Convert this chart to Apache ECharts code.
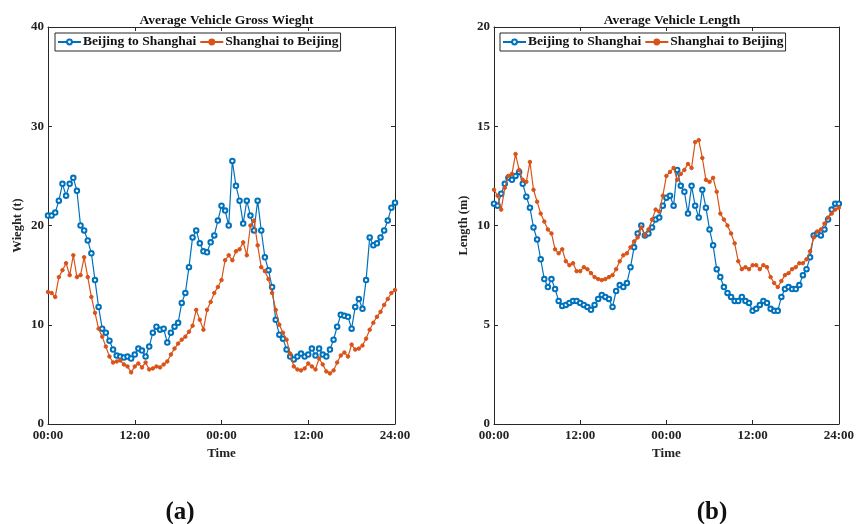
<!DOCTYPE html>
<html>
<head>
<meta charset="utf-8">
<script src="https://cdn.jsdelivr.net/npm/echarts@6/dist/echarts.min.js"></script>
<style>
html,body{margin:0;padding:0;background:#fff;}
#c{width:857px;height:524px;}
</style>
</head>
<body>
<div id="c"></div>
<script>
// x tick labels (hours 0..48 every 12)
const xTickLabels = ['00:00', '12:00', '00:00', '12:00', '24:00'];
const seriesNames = ['Beijing to Shanghai', 'Shanghai to Beijing'];
// Average gross weight (t), samples every 30 min over 48 h
const weightBJtoSH = [21.0,21.0,21.3,22.5,24.2,23.0,24.2,24.8,23.5,20.0,19.5,18.5,17.2,14.5,11.8,9.6,9.2,8.4,7.5,6.9,6.8,6.7,6.8,6.6,7.0,7.6,7.4,6.8,7.8,9.2,9.8,9.5,9.6,8.2,9.2,9.8,10.2,12.2,13.2,15.8,18.8,19.5,18.2,17.4,17.3,18.3,19.0,20.5,22.0,21.5,20.0,26.5,24.0,22.5,20.2,22.5,21.0,19.5,22.5,19.5,16.8,15.5,13.8,10.5,9.0,8.6,7.5,6.8,6.5,6.8,7.1,6.8,7.0,7.6,6.9,7.6,7.0,6.8,7.5,8.5,9.8,11.0,10.9,10.8,9.6,11.8,12.6,11.6,14.5,18.8,18.0,18.2,18.8,19.5,20.5,21.8,22.3];
const weightSHtoBJ = [13.3,13.2,12.8,14.8,15.5,16.2,15.0,17.0,14.8,15.0,16.8,14.8,12.8,11.2,9.6,8.8,7.8,6.8,6.2,6.3,6.4,6.0,5.8,5.2,5.8,6.1,5.7,6.2,5.5,5.6,5.8,5.7,6.0,6.3,7.0,7.6,8.1,8.5,8.8,9.3,9.9,11.5,10.5,9.5,11.5,12.3,13.2,13.8,14.5,16.5,17.0,16.5,17.4,17.6,18.3,17.0,20.0,20.5,18.0,15.8,15.4,14.6,13.2,11.5,10.0,9.2,8.5,7.1,5.8,5.5,5.4,5.6,6.1,5.8,5.5,6.6,6.0,5.3,5.1,5.4,6.2,6.9,7.2,6.8,8.0,7.5,7.6,7.9,8.6,9.5,10.2,10.8,11.3,12.0,12.6,13.2,13.5];
// Average vehicle length (m)
const lengthBJtoSH = [11.1,11.0,11.6,12.1,12.4,12.3,12.5,12.7,12.1,11.45,10.9,9.9,9.3,8.3,7.3,6.9,7.3,6.8,6.2,5.95,6.0,6.1,6.2,6.2,6.1,6.0,5.9,5.75,6.0,6.3,6.5,6.4,6.3,5.9,6.7,7.0,6.9,7.1,7.9,8.9,9.6,10.0,9.5,9.6,9.9,10.3,10.4,11.0,11.4,11.5,11.0,12.8,12.0,11.7,10.6,12.0,11.0,10.4,11.8,10.9,9.8,9.0,7.8,7.4,6.9,6.6,6.4,6.2,6.2,6.4,6.2,6.1,5.7,5.8,6.0,6.2,6.1,5.8,5.7,5.7,6.4,6.8,6.9,6.8,6.8,7.0,7.5,7.8,8.4,9.5,9.6,9.5,9.8,10.3,10.8,11.1,11.1];
const lengthSHtoBJ = [11.8,11.5,10.8,11.9,12.5,12.6,13.6,12.8,12.3,12.2,13.2,11.8,11.2,10.6,10.2,9.8,9.6,8.8,8.6,8.8,8.2,8.0,8.1,7.7,7.7,7.9,7.8,7.6,7.4,7.3,7.25,7.3,7.4,7.5,7.8,8.2,8.5,8.6,8.9,9.2,9.4,9.9,9.5,9.8,10.3,10.8,10.7,11.5,12.5,12.7,12.9,12.3,12.6,12.8,13.1,12.9,14.2,14.3,13.4,12.3,12.2,12.4,11.7,10.6,10.3,10.0,9.6,9.1,8.2,7.8,7.9,7.8,8.0,8.0,7.8,8.0,7.9,7.4,7.1,6.9,7.2,7.5,7.6,7.8,7.9,8.1,8.1,8.3,8.7,9.4,9.7,9.8,10.1,10.4,10.6,10.8,10.9];

const BLUE = '#0072BD', ORANGE = '#D95319';
const FONT = '"Liberation Serif", "Times New Roman", serif';
const hours = weightBJtoSH.map((_, i) => i * 0.5);
const pairs = arr => arr.map((v, i) => [hours[i], v]);

const grids = [
  {left: 48, right: 462, top: 27, bottom: 100},
  {left: 494, right: 16.5, top: 27, bottom: 100}
];
const AX = '#262626';

function xAxes(gi) {
  return [
    {gridIndex: gi, type: 'value', min: 0, max: 48, interval: 12, position: 'bottom',
     name: 'Time', nameLocation: 'middle', nameGap: 21,
     nameTextStyle: {fontFamily: FONT, fontWeight: 'bold', fontSize: 13, color: '#222'},
     axisLine: {onZero: false, lineStyle: {color: AX, width: 1}},
     axisTick: {inside: true, length: 4, lineStyle: {color: AX}},
     axisLabel: {fontFamily: FONT, fontWeight: 'bold', fontSize: 13, color: '#222', margin: 5,
       formatter: v => xTickLabels[Math.round(v / 12)]},
     splitLine: {show: false}},
    {gridIndex: gi, type: 'value', min: 0, max: 48, interval: 12, position: 'top',
     axisLine: {show: true, onZero: false, lineStyle: {color: AX, width: 1}},
     axisTick: {inside: true, length: 4, lineStyle: {color: AX}},
     axisLabel: {show: false}, splitLine: {show: false}}
  ];
}
function yAxes(gi, max, interval, name) {
  return [
    {gridIndex: gi, type: 'value', min: 0, max: max, interval: interval, position: 'left',
     name: name, nameLocation: 'middle', nameGap: 24,
     nameTextStyle: {fontFamily: FONT, fontWeight: 'bold', fontSize: 12.5, color: '#222'},
     axisLine: {show: true, onZero: false, lineStyle: {color: AX, width: 1}},
     axisTick: {show: true, inside: true, length: 4, lineStyle: {color: AX}},
     axisLabel: {fontFamily: FONT, fontWeight: 'bold', fontSize: 13, color: '#222', margin: 4},
     splitLine: {show: false}},
    {gridIndex: gi, type: 'value', min: 0, max: max, interval: interval, position: 'right',
     axisLine: {show: true, onZero: false, lineStyle: {color: AX, width: 1}},
     axisTick: {show: true, inside: true, length: 4, lineStyle: {color: AX}},
     axisLabel: {show: false}, splitLine: {show: false}}
  ];
}

function mkSeries(name, data, xi, yi, color, isBlue) {
  return {
    name: name, type: 'line', xAxisIndex: xi, yAxisIndex: yi, data: pairs(data),
    showSymbol: true, symbol: isBlue ? 'emptyCircle' : 'circle', symbolSize: isBlue ? 4.5 : 3.5,
    lineStyle: {color: color, width: 1.2},
    itemStyle: {color: color, borderColor: color, borderWidth: 1},
    emphasis: {disabled: true}, animation: false, z: isBlue ? 2 : 3
  };
}

const legendBase = {
  orient: 'horizontal', top: 33, itemWidth: 23, itemHeight: 6, itemGap: 3,
  borderColor: AX, borderWidth: 1, padding: [2, 2, 2, 2],
  backgroundColor: '#fff',
  textStyle: {fontFamily: FONT, fontWeight: 'bold', fontSize: 13.5, color: '#111', padding: [0, 0, 0, -3]},
  data: seriesNames
};

const labelRich = {
  p: {fontFamily: FONT, fontSize: 25, color: '#111'},
  b: {fontFamily: FONT, fontSize: 25, fontWeight: 'bold', color: '#111'}
};

const chart = echarts.init(document.getElementById('c'), null, {renderer: 'canvas'});
chart.setOption({
  backgroundColor: '#fff',
  animation: false,
  title: [
    {text: 'Average Vehicle Gross Wieght', left: 221.5, top: 9, textAlign: 'center',
     textStyle: {fontFamily: FONT, fontWeight: 'bold', fontSize: 13.5, color: '#111'}},
    {text: 'Average Vehicle Length', left: 667, top: 9, textAlign: 'center',
     textStyle: {fontFamily: FONT, fontWeight: 'bold', fontSize: 13.5, color: '#111'}},
    {text: '{p|(}{b|a}{p|)}', left: 175, top: 495, textAlign: 'center',
     textStyle: {rich: labelRich}},
    {text: '{p|(}{b|b}{p|)}', left: 707, top: 495, textAlign: 'center',
     textStyle: {rich: labelRich}}
  ],
  legend: [
    Object.assign({}, legendBase, {left: 55}),
    Object.assign({}, legendBase, {left: 500})
  ],
  grid: grids,
  xAxis: xAxes(0).concat(xAxes(1)),
  yAxis: yAxes(0, 40, 10, 'Wieght (t)').concat(yAxes(1, 20, 5, 'Length (m)')),
  series: [
    mkSeries(seriesNames[0], weightBJtoSH, 0, 0, BLUE, true),
    mkSeries(seriesNames[1], weightSHtoBJ, 0, 0, ORANGE, false),
    mkSeries(seriesNames[0], lengthBJtoSH, 2, 2, BLUE, true),
    mkSeries(seriesNames[1], lengthSHtoBJ, 2, 2, ORANGE, false)
  ]
});
</script>
</body>
</html>
